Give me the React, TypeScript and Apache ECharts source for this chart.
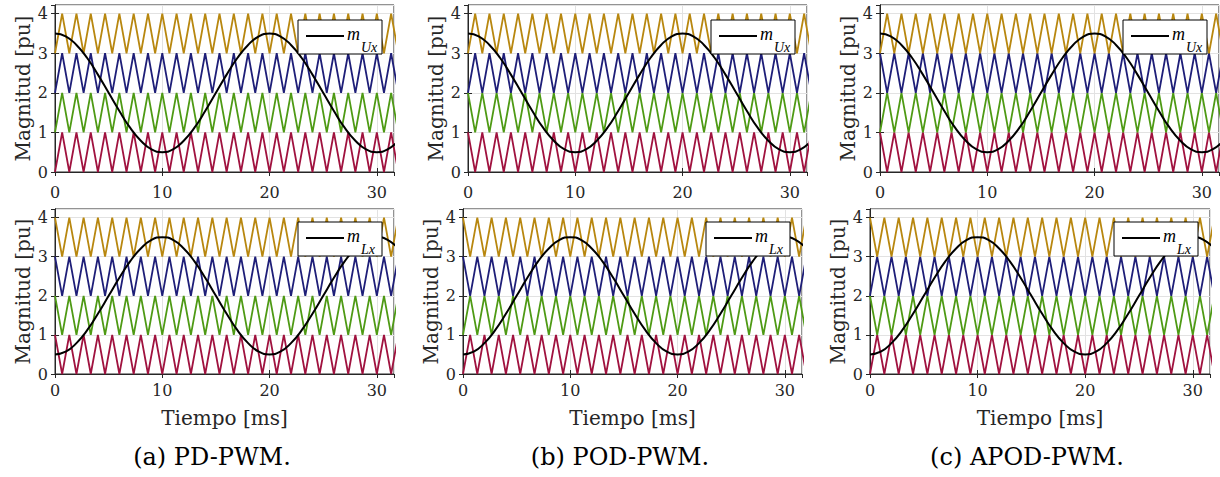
import React, { useEffect, useRef } from "react";
import * as echarts from "echarts";

// ---------- data ----------
// carrier vertex times [ms] (triangle carriers, 750 Hz)
const carrierTimes = [
  0, 0.667, 1.333, 2, 2.667, 3.333, 4, 4.667, 5.333, 6, 6.667, 7.333, 8, 8.667, 9.333, 10,
  10.667, 11.333, 12, 12.667, 13.333, 14, 14.667, 15.333, 16, 16.667, 17.333, 18, 18.667,
  19.333, 20, 20.667, 21.333, 22, 22.667, 23.333, 24, 24.667, 25.333, 26, 26.667, 27.333, 28,
  28.667, 29.333, 30, 30.667, 31.333, 32,
];
// carrier bands (bottom level) in order: red, green, navy, gold
const carrierBands = [0, 1, 2, 3];
const carrierColors = ["#A0123F", "#4E9A14", "#1E1E78", "#B8870F"];
// 1 = carrier starts at top of its band at t = 0, 0 = starts at bottom
const pdUpperStart = [0, 0, 0, 0];
const podUpperStart = [1, 1, 0, 0];
const apodUpperStart = [1, 0, 1, 0];
const pdLowerStart = [1, 1, 1, 1];
const podLowerStart = [0, 0, 1, 1];
const apodLowerStart = [0, 1, 0, 1];

// modulating signals sampled every 1 ms
const sineTimes = [
  0, 1, 2, 3, 4, 5, 6, 7, 8, 9, 10, 11, 12, 13, 14, 15, 16, 17, 18, 19, 20, 21, 22, 23, 24, 25,
  26, 27, 28, 29, 30, 31, 32,
];
const mUx = [
  3.5, 3.43, 3.21, 2.88, 2.46, 2.0, 1.54, 1.12, 0.79, 0.57, 0.5, 0.57, 0.79, 1.12, 1.54, 2.0,
  2.46, 2.88, 3.21, 3.43, 3.5, 3.43, 3.21, 2.88, 2.46, 2.0, 1.54, 1.12, 0.79, 0.57, 0.5, 0.57,
  0.79,
];
const mLx = [
  0.5, 0.57, 0.79, 1.12, 1.54, 2.0, 2.46, 2.88, 3.21, 3.43, 3.5, 3.43, 3.21, 2.88, 2.46, 2.0,
  1.54, 1.12, 0.79, 0.57, 0.5, 0.57, 0.79, 1.12, 1.54, 2.0, 2.46, 2.88, 3.21, 3.43, 3.5, 3.43,
  3.21,
];

const xTicks = [0, 10, 20, 30];
const yTicks = [0, 1, 2, 3, 4];
const captions = ["(a) PD-PWM.", "(b) POD-PWM.", "(c) APOD-PWM."];
const xName = "Tiempo [ms]";
const yName = "Magnitud [pu]";
const legendMain = "m";
const legendSubs = ["Ux", "Lx"];

// ---------- layout ----------
const X_MAX = 31.6;
const Y_MAX = 4.22;
const grids = [
  { left: 55, top: 5, width: 339, height: 167 },
  { left: 468, top: 5, width: 339, height: 167 },
  { left: 880, top: 5, width: 339, height: 167 },
  { left: 55, top: 209, width: 339, height: 165 },
  { left: 463, top: 209, width: 339, height: 165 },
  { left: 870, top: 209, width: 340, height: 165 },
];
const captionCenters = [212, 620, 1027];
const FONT = "'DejaVu Serif', 'Liberation Serif', serif";
const LFONT = "'Liberation Serif', 'DejaVu Serif', serif";
const AX = "#262626";

const panels = [
  { start: pdUpperStart, m: mUx, sub: legendSubs[0] },
  { start: podUpperStart, m: mUx, sub: legendSubs[0] },
  { start: apodUpperStart, m: mUx, sub: legendSubs[0] },
  { start: pdLowerStart, m: mLx, sub: legendSubs[1] },
  { start: podLowerStart, m: mLx, sub: legendSubs[1] },
  { start: apodLowerStart, m: mLx, sub: legendSubs[1] },
];

function buildOption() {
  const xAxis: any[] = [];
  const yAxis: any[] = [];
  const series: any[] = [];
  const graphic: any[] = [];

  const tickFmt = (ticks: number[]) => (v: number) =>
    ticks.some((t) => Math.abs(t - v) < 1e-6) ? String(v) : "";

  grids.forEach((g, i) => {
    const bottomRow = i >= 3;
    xAxis.push({
      type: "value",
      gridIndex: i,
      min: 0,
      max: X_MAX,
      interval: 10,
      position: "bottom",
      name: bottomRow ? xName : "",
      nameLocation: "middle",
      nameGap: 34,
      nameTextStyle: { fontFamily: FONT, fontSize: 20, color: AX },
      axisLine: { show: true, lineStyle: { color: AX, width: 1 } },
      axisTick: { show: true, inside: true, length: 4, lineStyle: { color: AX } },
      axisLabel: {
        show: true,
        fontFamily: FONT,
        fontSize: 16,
        color: AX,
        margin: bottomRow ? 8 : 12,
        showMaxLabel: false,
        formatter: tickFmt(xTicks),
      },
      splitLine: { show: true, lineStyle: { color: "#e2e2e2", width: 1 } },
    });
    xAxis.push({
      type: "value",
      gridIndex: i,
      min: 0,
      max: X_MAX,
      interval: 10,
      position: "top",
      axisLine: { show: true, lineStyle: { color: AX, width: 1 } },
      axisTick: { show: true, inside: true, length: 4, lineStyle: { color: AX } },
      axisLabel: { show: false },
      splitLine: { show: false },
    });
    yAxis.push({
      type: "value",
      gridIndex: i,
      min: 0,
      max: Y_MAX,
      interval: 1,
      position: "left",
      name: yName,
      nameLocation: "middle",
      nameGap: 22,
      nameTextStyle: { fontFamily: FONT, fontSize: 20, color: AX },
      axisLine: { show: true, lineStyle: { color: AX, width: 1 } },
      axisTick: { show: true, inside: true, length: 4, lineStyle: { color: AX } },
      axisLabel: {
        show: true,
        fontFamily: FONT,
        fontSize: 16,
        color: AX,
        margin: 7,
        showMaxLabel: false,
        formatter: tickFmt(yTicks),
      },
      splitLine: { show: true, lineStyle: { color: "#e2e2e2", width: 1 } },
    });
    yAxis.push({
      type: "value",
      gridIndex: i,
      min: 0,
      max: Y_MAX,
      interval: 1,
      position: "right",
      axisLine: { show: true, lineStyle: { color: AX, width: 1 } },
      axisTick: { show: true, inside: true, length: 4, lineStyle: { color: AX } },
      axisLabel: { show: false },
      splitLine: { show: false },
    });

    const p = panels[i];
    carrierBands.forEach((base, c) => {
      series.push({
        type: "line",
        xAxisIndex: 2 * i,
        yAxisIndex: 2 * i,
        showSymbol: false,
        symbol: "none",
        silent: true,
        clip: true,
        z: 2,
        lineStyle: { color: carrierColors[c], width: 1.8 },
        data: carrierTimes.map((t, k) => [t, base + ((k + p.start[c]) % 2)]),
      });
    });
    series.push({
      type: "line",
      xAxisIndex: 2 * i,
      yAxisIndex: 2 * i,
      showSymbol: false,
      symbol: "none",
      silent: true,
      clip: true,
      smooth: true,
      z: 3,
      lineStyle: { color: "#000000", width: 2 },
      data: sineTimes.map((t, k) => [t, p.m[k]]),
    });

    // legend box
    const bw = 84;
    const bh = 34;
    const bx = g.left + g.width - 12 - bw;
    const by = g.top + (bottomRow ? 13 : 15);
    graphic.push({
      type: "rect",
      z: 100,
      shape: { x: bx, y: by, width: bw, height: bh },
      style: { fill: "#ffffff", stroke: "#000000", lineWidth: 1 },
    });
    graphic.push({
      type: "line",
      z: 101,
      shape: { x1: bx + 8, y1: by + 16, x2: bx + 46, y2: by + 16 },
      style: { stroke: "#000000", lineWidth: 2 },
    });
    graphic.push({
      type: "text",
      z: 101,
      x: bx + 49,
      y: by + 14,
      style: {
        text: legendMain,
        font: `italic 18px ${LFONT}`,
        fill: "#000000",
        verticalAlign: "middle",
        align: "left",
      },
    });
    graphic.push({
      type: "text",
      z: 101,
      x: bx + 63,
      y: by + 27,
      style: {
        text: p.sub,
        font: `italic 14px ${LFONT}`,
        fill: "#000000",
        verticalAlign: "middle",
        align: "left",
      },
    });
  });

  captions.forEach((c, j) => {
    graphic.push({
      type: "text",
      z: 100,
      x: captionCenters[j],
      y: 457,
      style: {
        text: c,
        font: `24px ${FONT}`,
        fill: "#000000",
        align: "center",
        verticalAlign: "middle",
      },
    });
  });

  return {
    animation: false,
    backgroundColor: "#ffffff",
    grid: grids.map((g) => ({
      ...g,
      show: true,
      borderColor: AX,
      borderWidth: 1,
      backgroundColor: "#ffffff",
      containLabel: false,
    })),
    xAxis,
    yAxis,
    series,
    graphic,
  };
}

export default function App() {
  const ref = useRef<HTMLDivElement>(null);
  useEffect(() => {
    if (!ref.current) return;
    const chart = echarts.init(ref.current, null, { renderer: "svg" });
    chart.setOption(buildOption() as any);
    return () => chart.dispose();
  }, []);
  return (
    <div
      ref={ref}
      style={{ position: "absolute", left: 0, top: 0, width: 1220, height: 477 }}
    />
  );
}
